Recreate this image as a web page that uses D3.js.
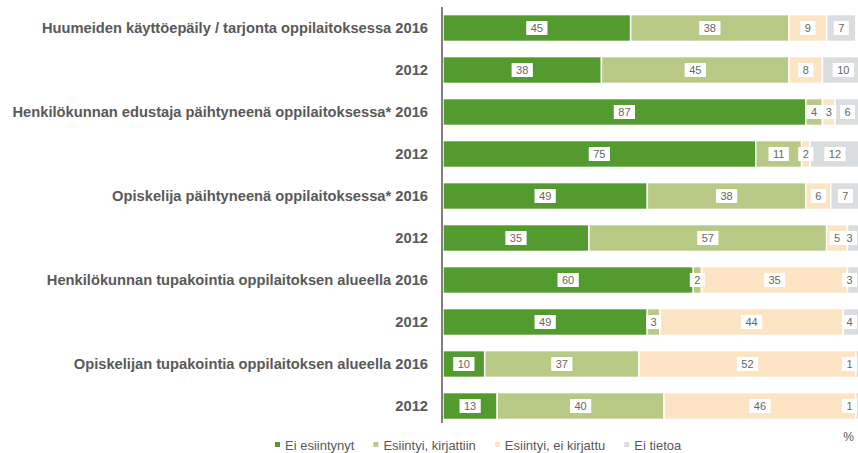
<!DOCTYPE html>
<html>
<head>
<meta charset="utf-8">
<script src="https://d3js.org/d3.v7.min.js"></script>
<style>
  body { margin: 0; background: #fff; }
  svg { display: block; font-family: "Liberation Sans", Arial, sans-serif; }
</style>
</head>
<body>
<svg width="858" height="453"></svg>
<script>
// Data
var rowLabels = [
    "Huumeiden käyttöepäily / tarjonta oppilaitoksessa 2016", "2012",
    "Henkilökunnan edustaja päihtyneenä oppilaitoksessa* 2016", "2012",
    "Opiskelija päihtyneenä oppilaitoksessa* 2016", "2012",
    "Henkilökunnan tupakointia oppilaitoksen alueella 2016", "2012",
    "Opiskelijan tupakointia oppilaitoksen alueella 2016", "2012"
];
var seriesNames = ["Ei esiintynyt", "Esiintyi, kirjattiin", "Esiintyi, ei kirjattu", "Ei tietoa"];
var eiEsiintynyt = [45, 38, 87, 75, 49, 35, 60, 49, 10, 13];
var kirjattiin   = [38, 45, 4, 11, 38, 57, 2, 3, 37, 40];
var eiKirjattu   = [9, 8, 3, 2, 6, 5, 35, 44, 52, 46];
var eiTietoa     = [7, 10, 6, 12, 7, 3, 3, 4, 1, 1];
var colors = ["#539a2f", "#b9ca87", "#fce4c4", "#dadde0"];

var svg = d3.select("svg");
var W = +svg.attr("width");

var rows = rowLabels.map(function (l, i) {
    return { i: i, label: l, values: [eiEsiintynyt[i], kirjattiin[i], eiKirjattu[i], eiTietoa[i]] };
});

var stack = d3.stack()
    .keys([0, 1, 2, 3])
    .value(function (d, k) { return d.values[k]; });
var stacked = stack(rows);

// Scales
var xScale = d3.scaleLinear().domain([0, 100]).range([443, 860]);
var yScale = d3.scaleBand()
    .domain(d3.range(rowLabels.length))
    .range([7, 427])
    .paddingInner(0.36)
    .paddingOuter(0.18);

// Bars
var layers = svg.append("g").selectAll("g")
    .data(stacked)
    .join("g")
    .attr("fill", function (d) { return colors[d.key]; });

layers.selectAll("rect")
    .data(function (d) { return d; })
    .join("rect")
    .attr("x", function (d) { return xScale(d[0]); })
    .attr("y", function (d) { return yScale(d.data.i); })
    .attr("width", function (d) { return xScale(d[1]) - xScale(d[0]); })
    .attr("height", yScale.bandwidth())
    .attr("stroke", "#fff")
    .attr("stroke-width", 1.5);

// Y axis
var yAxis = d3.axisLeft(yScale)
    .tickSize(0)
    .tickPadding(14)
    .tickFormat(function (i) { return rowLabels[i]; });

var axisG = svg.append("g")
    .attr("transform", "translate(442,0)")
    .call(yAxis);
axisG.select(".domain")
    .attr("stroke", "#7f7f7f")
    .attr("stroke-width", 2)
    .attr("d", "M0,7V423");
axisG.selectAll("text")
    .attr("fill", "#595959")
    .style("font-size", "14.7px")
    .style("font-weight", "bold")
    .style("font-family", "'Liberation Sans', Arial, sans-serif");

// Value labels
var labelG = svg.append("g");
stacked.forEach(function (layer) {
    layer.forEach(function (d) {
        var v = d[1] - d[0];
        var cx = (xScale(d[0]) + xScale(d[1])) / 2;
        var cy = yScale(d.data.i) + yScale.bandwidth() / 2;
        var g = labelG.append("g");
        var t = g.append("text")
            .attr("y", cy)
            .attr("dy", "0.35em")
            .attr("text-anchor", "middle")
            .attr("fill", "#666")
            .style("font-size", "11px")
            .text(v);
        var bw = t.node().getComputedTextLength() + 9;
        cx = Math.min(cx, W - 1 - bw / 2);
        t.attr("x", cx);
        g.insert("rect", "text")
            .attr("x", cx - bw / 2)
            .attr("y", cy - 7)
            .attr("width", bw)
            .attr("height", 14)
            .attr("fill", "#fff");
    });
});

// Legend
var legend = svg.append("g");
var lx = 275;
seriesNames.forEach(function (name, k) {
    legend.append("rect")
        .attr("x", lx)
        .attr("y", 442)
        .attr("width", 5)
        .attr("height", 5)
        .attr("fill", colors[k]);
    var t = legend.append("text")
        .attr("x", lx + 10)
        .attr("y", 449.5)
        .attr("fill", "#595959")
        .style("font-size", "13px")
        .text(name);
    lx += 10 + t.node().getComputedTextLength() + 19;
});

svg.append("text")
    .attr("x", 854)
    .attr("y", 441)
    .attr("text-anchor", "end")
    .attr("fill", "#595959")
    .style("font-size", "12px")
    .text("%");
</script>
</body>
</html>
